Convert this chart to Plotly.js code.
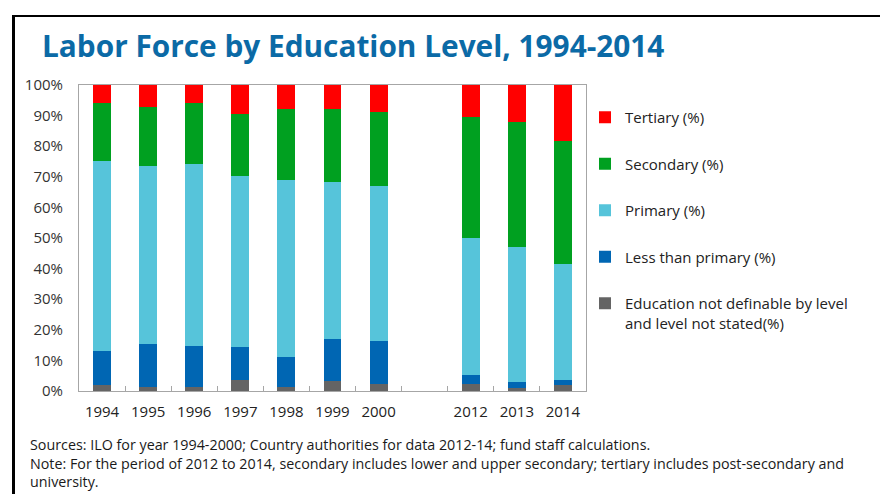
<!DOCTYPE html>
<html>
<head>
<meta charset="utf-8">
<script src="https://cdn.plot.ly/plotly-3.0.1.min.js"></script>
<style>
html,body{margin:0;padding:0;background:#fff;}
#chart{width:880px;height:494px;}
</style>
</head>
<body>
<div id="chart"></div>
<script>
// Categories (the blank slot separates the two periods)
var years = ["1994", "1995", "1996", "1997", "1998", "1999", "2000", " ", "2012", "2013", "2014"];
// Series values (%), null for the blank slot
var notStated    = [1.9, 1.2, 1.2, 3.5, 1.2, 3.2, 2.4, null, 2.4, 1.0, 1.9];
var lessPrimary  = [11.1, 14.3, 13.5, 10.9, 10.0, 13.8, 13.8, null, 2.7, 2.1, 1.6];
var primary      = [62.1, 58.1, 59.6, 56.0, 57.9, 51.4, 50.9, null, 45.0, 43.9, 38.1];
var secondary    = [18.9, 19.3, 19.7, 20.2, 23.0, 23.6, 24.0, null, 39.6, 40.9, 40.2];
var tertiary     = [6.0, 7.1, 6.0, 9.4, 7.9, 8.0, 8.9, null, 10.3, 12.1, 18.2];
var seriesNames  = ["Education not definable by level<br>and level not stated(%)", "Less than primary (%)", "Primary (%)", "Secondary (%)", "Tertiary (%)"];
var yTickVals    = [0, 10, 20, 30, 40, 50, 60, 70, 80, 90, 100];
var yTickLabels  = ["0%", "10%", "20%", "30%", "40%", "50%", "60%", "70%", "80%", "90%", "100%"];

var colors = ["#646464", "#0066B3", "#56C4DA", "#00A020", "#FF0000"];
var series = [notStated, lessPrimary, primary, secondary, tertiary];

var traces = series.map(function (vals, i) {
  return {
    type: "bar",
    x: years,
    y: vals,
    name: seriesNames[i],
    legendgroup: "g" + i,
    legendrank: 1000 + (series.length - i),
    marker: {color: colors[i], line: {width: 0}},
    hoverinfo: "x+y+name"
  };
});

// plot area: x 79..586, y 85..391
var L = 79, R = 294, T = 85, B = 103, W = 880 - L - R, H = 494 - T - B;
function px(x) { return (x - L) / W; }
function py(y) { return (494 - B - y) / H; }

var noteFont = {family: "Open Sans, sans-serif", size: 14.3, color: "#1a1a1a"};
var noteText = "Sources: ILO for year 1994-2000; Country authorities for data 2012-14; fund staff calculations.<br>" +
               "Note: For the period of 2012 to 2014, secondary includes lower and upper secondary; tertiary includes post-secondary and<br>" +
               "university.";

var layout = {
  width: 880,
  height: 494,
  margin: {l: L, r: R, t: T, b: B},
  paper_bgcolor: "#ffffff",
  plot_bgcolor: "#ffffff",
  barmode: "stack",
  bargap: 0.61,
  showlegend: true,
  font: {family: "Open Sans, sans-serif", size: 15, color: "#333333"},
  title: {
    text: "<b>Labor Force by Education Level, 1994-2014</b>",
    font: {family: "Open Sans, sans-serif", size: 29.8, color: "#0B6AA6"},
    xref: "container", yref: "container",
    x: 42 / 880, xanchor: "left",
    y: 1 - 47 / 494, yanchor: "middle"
  },
  xaxis: {
    type: "category",
    categoryorder: "array",
    categoryarray: years,
    tickson: "boundaries",
    ticks: "inside",
    ticklen: 5,
    tickcolor: "#A6A6A6",
    ticklabelstandoff: 7,
    showline: true,
    linecolor: "#A6A6A6",
    linewidth: 1,
    mirror: true,
    showgrid: false,
    zeroline: false,
    tickfont: {family: "Open Sans, sans-serif", size: 15, color: "#222222"},
    fixedrange: true
  },
  yaxis: {
    range: [0, 100],
    tickmode: "array",
    tickvals: yTickVals,
    ticktext: yTickLabels,
    ticks: "",
    ticklabelstandoff: 12,
    showline: true,
    linecolor: "#A6A6A6",
    linewidth: 1,
    mirror: true,
    showgrid: false,
    zeroline: false,
    tickfont: {family: "Open Sans, sans-serif", size: 15, color: "#333333"},
    fixedrange: true
  },
  legend: {
    x: px(585), xanchor: "left",
    y: py(101), yanchor: "top",
    traceorder: "grouped",
    tracegroupgap: 24,
    valign: "top",
    bgcolor: "rgba(0,0,0,0)",
    font: {family: "Open Sans, sans-serif", size: 15, color: "#222222"}
  },
  shapes: [
    {type: "line", xref: "paper", yref: "paper", x0: px(13.5), x1: px(13.5), y0: py(15), y1: py(494), line: {color: "#000000", width: 3}},
    {type: "line", xref: "paper", yref: "paper", x0: px(12), x1: px(880), y0: py(16), y1: py(16), line: {color: "#000000", width: 2}}
  ],
  annotations: [
    {xref: "paper", yref: "paper", x: px(28), y: py(463), xanchor: "left", yanchor: "middle", showarrow: false, align: "left",
     text: noteText, font: noteFont}
  ]
};

Plotly.newPlot("chart", traces, layout, {displayModeBar: false, staticPlot: true});
</script>
</body>
</html>
